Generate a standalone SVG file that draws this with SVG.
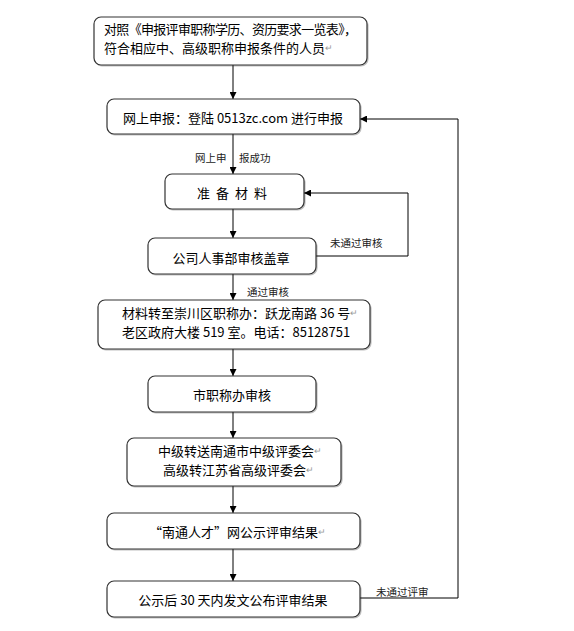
<svg xmlns="http://www.w3.org/2000/svg" width="574" height="631" viewBox="0 0 574 631">
<defs>
<marker id="ah" viewBox="0 0 10 10" refX="10" refY="5" markerWidth="7" markerHeight="7" markerUnits="userSpaceOnUse" orient="auto">
<path d="M0,0 L10,5 L0,10 Z" fill="#000"/>
</marker>
<filter id="sh" x="-5%" y="-10%" width="110%" height="130%">
<feDropShadow dx="1" dy="1" stdDeviation="0.6" flood-color="#000" flood-opacity="0.25"/>
</filter>
</defs>
<style>
.box{fill:#fff;stroke:#333;stroke-width:1.2;filter:url(#sh)}
.t{font-family:"Noto Sans CJK SC","Liberation Sans",sans-serif;font-size:13px;fill:#000;dominant-baseline:central}
.c{text-anchor:middle}
.lbl{font-family:"Noto Sans CJK SC","Liberation Sans",sans-serif;font-size:10.5px;fill:#222;dominant-baseline:central}
.pm{fill:#999;font-size:9px}
.ln{fill:none;stroke:#000;stroke-width:1}
</style>
<rect width="574" height="631" fill="#fff"/>
<g id="connectors">
<line class="ln" x1="233" y1="65" x2="233" y2="99" marker-end="url(#ah)"/>
<line class="ln" x1="233" y1="134" x2="233" y2="174" marker-end="url(#ah)"/>
<line class="ln" x1="233" y1="209" x2="233" y2="238" marker-end="url(#ah)"/>
<line class="ln" x1="233" y1="274" x2="233" y2="300" marker-end="url(#ah)"/>
<line class="ln" x1="233" y1="349" x2="233" y2="376" marker-end="url(#ah)"/>
<line class="ln" x1="233" y1="412" x2="233" y2="438" marker-end="url(#ah)"/>
<line class="ln" x1="233" y1="486" x2="233" y2="513" marker-end="url(#ah)"/>
<line class="ln" x1="233" y1="549" x2="233" y2="581" marker-end="url(#ah)"/>
<polyline class="ln" points="316,256 408,256 408,193 304,193" marker-end="url(#ah)"/>
<polyline class="ln" points="360,598 458,598 458,119 360,119" marker-end="url(#ah)"/>
<text class="lbl" x="195" y="157">网上申</text>
<text class="lbl" x="239" y="157">报成功</text>
<text class="lbl" x="247" y="291">通过审核</text>
<text class="lbl" x="330" y="242">未通过审核</text>
<text class="lbl" x="376" y="591">未通过评审</text>
</g>
<g id="n1">
<rect class="box" x="94" y="17" width="273" height="48" rx="7"/>
<text class="t" x="104" y="28" textLength="253" lengthAdjust="spacing">对照《申报评审职称学历、资历要求一览表》，</text>
<text class="t" x="104" y="47">符合相应中、高级职称申报条件的人员<tspan class="pm">↵</tspan></text>
</g>
<g id="n2">
<rect class="box" x="107" y="99" width="253" height="35" rx="7"/>
<text class="t c" x="233" y="117">网上申报：登陆 0513zc.com 进行申报</text>
</g>
<g id="n3">
<rect class="box" x="165" y="174" width="139" height="35" rx="7"/>
<text class="t c" x="235" y="192" letter-spacing="6">准备材料</text>
</g>
<g id="n4">
<rect class="box" x="148" y="238" width="168" height="36" rx="7"/>
<text class="t c" x="231" y="257">公司人事部审核盖章</text>
</g>
<g id="n5">
<rect class="box" x="98" y="300" width="272" height="49" rx="7"/>
<text class="t" x="122" y="312">材料转至崇川区职称办：跃龙南路 36 号<tspan class="pm">↵</tspan></text>
<text class="t" x="122" y="331">老区政府大楼 519 室。电话：85128751</text>
</g>
<g id="n6">
<rect class="box" x="148" y="376" width="168" height="36" rx="7"/>
<text class="t c" x="232" y="394">市职称办审核</text>
</g>
<g id="n7">
<rect class="box" x="127" y="438" width="214" height="48" rx="7"/>
<text class="t" x="158" y="450">中级转送南通市中级评委会<tspan class="pm">↵</tspan></text>
<text class="t" x="163" y="469">高级转江苏省高级评委会<tspan class="pm">↵</tspan></text>
</g>
<g id="n8">
<rect class="box" x="107" y="513" width="253" height="36" rx="7"/>
<text class="t" x="149" y="531">“南通人才”网公示评审结果<tspan class="pm">↵</tspan></text>
</g>
<g id="n9">
<rect class="box" x="107" y="581" width="253" height="36" rx="7"/>
<text class="t c" x="233" y="599">公示后 30 天内发文公布评审结果</text>
</g>
</svg>
